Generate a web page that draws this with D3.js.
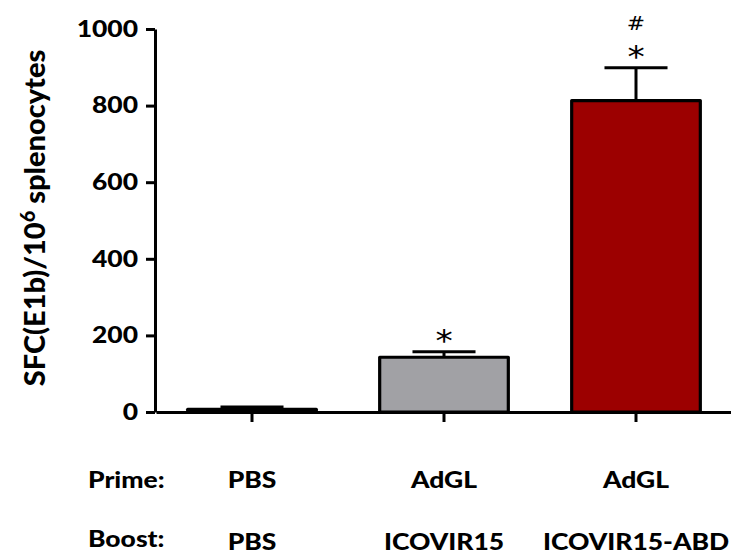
<!DOCTYPE html>
<html>
<head>
<meta charset="utf-8">
<script src="https://cdn.jsdelivr.net/npm/d3@7"></script>
<style>
  html, body { margin: 0; padding: 0; background: #fff; }
  svg { display: block; }
  text { font-family: Lato, "Open Sans", sans-serif; font-weight: 900; fill: #000; }
</style>
</head>
<body>
<svg id="chart" width="731" height="554"></svg>
<script>
// Groups, means and upper error (SEM) of E1b-specific spot forming cells
const groups   = ["PBS/PBS", "AdGL/ICOVIR15", "AdGL/ICOVIR15-ABD"];
const primes   = ["PBS", "AdGL", "AdGL"];
const boosts   = ["PBS", "ICOVIR15", "ICOVIR15-ABD"];
const means    = [7, 143, 813];
const errors   = [6, 14, 86];
const marks    = [[], ["*"], ["*", "#"]];
const fills    = ["#ffffff", "#a1a1a5", "#9c0000"];
const yTicks   = [0, 200, 400, 600, 800, 1000];

const SX = 1.15; // horizontal text stretch used throughout the figure

const svg = d3.select("#chart");

const x = d3.scaleBand()
  .domain(groups)
  .range([156, 732])
  .paddingInner(0.33)
  .paddingOuter(0.165);

const y = d3.scaleLinear()
  .domain([0, 1000])
  .range([412, 29]);

// place a text at (px, py) and widen it horizontally
function placeText(sel, px, py) {
  return sel.attr("x", 0).attr("y", 0)
    .attr("transform", `translate(${px},${py}) scale(${SX},1)`);
}

// Bars
const bars = svg.append("g");
bars.selectAll("rect")
  .data(groups)
  .join("rect")
  .attr("x", d => x(d))
  .attr("width", x.bandwidth())
  .attr("y", (d, i) => y(means[i]))
  .attr("height", (d, i) => y(0) - y(means[i]))
  .attr("fill", (d, i) => fills[i])
  .attr("stroke", "#000")
  .attr("stroke-width", 3.2)
  .attr("stroke-linejoin", "round");

// Upper error bars
const capHalf = x.bandwidth() * 0.245;
const err = svg.append("g").attr("stroke", "#000").attr("stroke-width", 3);
groups.forEach((g, i) => {
  const cx = x(g) + x.bandwidth() / 2;
  err.append("line")
    .attr("x1", cx).attr("x2", cx)
    .attr("y1", y(means[i])).attr("y2", y(means[i] + errors[i]));
  err.append("line")
    .attr("x1", cx - capHalf).attr("x2", cx + capHalf)
    .attr("y1", y(means[i] + errors[i])).attr("y2", y(means[i] + errors[i]));
});

// Significance marks above the error bars: "*" first, "#" stacked above it
const markOffset = { "*": 1, "#": 38 };
const markSize   = { "*": "30px", "#": "19px" };
groups.forEach((g, i) => {
  const cx = x(g) + x.bandwidth() / 2;
  const top = y(means[i] + errors[i]);
  marks[i].forEach(m => {
    const t = svg.append("text")
      .attr("text-anchor", "middle")
      .style("font-family", "'DejaVu Sans', sans-serif")
      .style("font-weight", "normal")
      .style("font-size", markSize[m])
      .text(m);
    placeText(t, cx, top - markOffset[m]);
  });
});

// Y axis
const yAxis = svg.append("g")
  .attr("transform", "translate(155,0)")
  .call(d3.axisLeft(y).tickValues(yTicks).tickSize(9).tickSizeOuter(0).tickFormat(d3.format("d")));
yAxis.select(".domain").attr("stroke-width", 3);
yAxis.selectAll(".tick line").attr("stroke-width", 3);
yAxis.selectAll(".tick text")
  .style("font-size", "23px")
  .attr("x", -17 / SX)
  .attr("transform", `scale(${SX},1)`);

// X axis
const xAxis = svg.append("g")
  .attr("transform", "translate(0,412)")
  .call(d3.axisBottom(x).tickSize(10).tickSizeOuter(0).tickFormat(""));
xAxis.select(".domain").attr("stroke-width", 3);
xAxis.selectAll(".tick line").attr("stroke-width", 3);

// Y axis title
const title = svg.append("text")
  .attr("text-anchor", "middle")
  .attr("transform", "translate(45,218) rotate(-90)")
  .style("font-size", "29px");
title.append("tspan").text("SFC(E1b)/10");
title.append("tspan").text("6").attr("dy", "-0.5em").style("font-size", "20px");
title.append("tspan").text(" splenocytes").attr("dy", "0.34em");

// Prime / Boost rows under the axis
const rowStyle = sel => sel.style("font-size", "23px");
placeText(svg.append("text").call(rowStyle).text("Prime:"), 88, 488);
placeText(svg.append("text").call(rowStyle).text("Boost:"), 88, 547);
groups.forEach((g, i) => {
  const cx = x(g) + x.bandwidth() / 2;
  placeText(svg.append("text").call(rowStyle).attr("text-anchor", "middle").text(primes[i]), cx, 488);
  placeText(svg.append("text").call(rowStyle).attr("text-anchor", "middle").text(boosts[i]), cx, 550);
});
</script>
</body>
</html>
